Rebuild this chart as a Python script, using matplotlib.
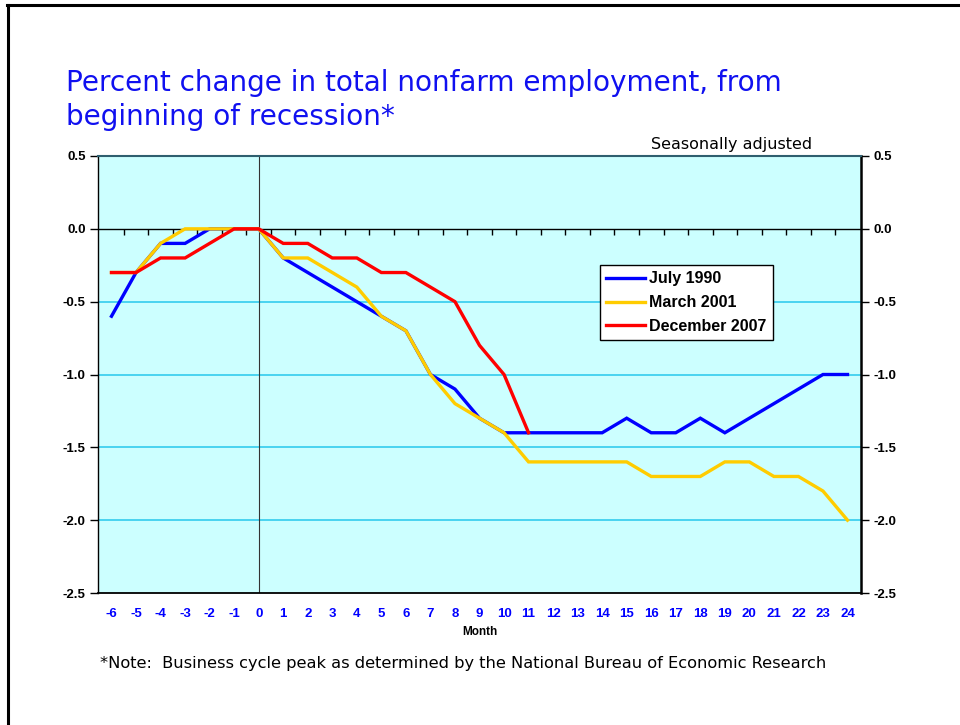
import numpy as np
import matplotlib
matplotlib.use("Agg")
import matplotlib.pyplot as plt
from matplotlib.lines import Line2D

# Months from start of recession
months = list(range(-6, 25))

july_1990 = [-0.6, -0.3, -0.1, -0.1, 0.0, 0.0, 0.0, -0.2, -0.3, -0.4, -0.5, -0.6, -0.7,
             -1.0, -1.1, -1.3, -1.4, -1.4, -1.4, -1.4, -1.4, -1.3, -1.4, -1.4, -1.3,
             -1.4, -1.3, -1.2, -1.1, -1.0, -1.0]
march_2001 = [-0.3, -0.3, -0.1, 0.0, 0.0, 0.0, 0.0, -0.2, -0.2, -0.3, -0.4, -0.6, -0.7,
              -1.0, -1.2, -1.3, -1.4, -1.6, -1.6, -1.6, -1.6, -1.6, -1.7, -1.7, -1.7,
              -1.6, -1.6, -1.7, -1.7, -1.8, -2.0]
dec_2007 = [-0.3, -0.3, -0.2, -0.2, -0.1, 0.0, 0.0, -0.1, -0.1, -0.2, -0.2, -0.3, -0.3,
            -0.4, -0.5, -0.8, -1.0, -1.4]

series_names = ["July 1990", "March 2001", "December 2007"]
series_colors = ["#0000FF", "#FFCC00", "#FF0000"]

yticks = [0.5, 0.0, -0.5, -1.0, -1.5, -2.0, -2.5]

fig = plt.figure(figsize=(9.6, 7.25), dpi=100)
ax = fig.add_axes([98 / 960, 1 - 593 / 725, 763 / 960, 437 / 725])
ax.set_facecolor("#CCFFFF")

# gridlines
for yv in yticks[2:-1]:
    ax.axhline(yv, color="#33CCEE", lw=1.2, zorder=1)
ax.axhline(0, color="black", lw=1.0, zorder=2)
ax.axvline(0, color="#333333", lw=0.8, zorder=2)

# small category tick marks on the zero line
half = np.array(months[1:]) - 0.5
ax.plot(half, np.zeros(len(half)), ls="none", marker=3, ms=4, mew=1, color="black", zorder=2)

data = [july_1990, march_2001, dec_2007]
for vals, name, col in zip(data, series_names, series_colors):
    ax.plot(months[:len(vals)], vals, color=col, lw=2.4, label=name, zorder=3,
            solid_joinstyle="miter")

ax.set_xlim(-6.55, 24.55)
ax.set_ylim(-2.5, 0.5)
ax.set_xticks(months)
ax.set_xticklabels([str(m) for m in months], color="#0000FF", fontweight="bold",
                   fontsize=9.5, family="Liberation Sans")
ax.tick_params(axis="x", length=0, pad=11)
ax.set_yticks(yticks)
ax.set_yticklabels(["%.1f" % v for v in yticks], fontweight="bold", fontsize=9.5,
                   family="Liberation Sans")
ax.tick_params(axis="y", left=True, right=True, labelleft=True, labelright=True,
               direction="out", length=6, width=1, pad=3)
ax.set_xlabel("Month", fontweight="bold", fontsize=8.5, family="Liberation Sans", labelpad=4)

ax.spines["top"].set_color("#2F5F6F")
ax.spines["top"].set_linewidth(1.5)
ax.spines["right"].set_linewidth(1.8)
ax.spines["bottom"].set_linewidth(1.3)
ax.spines["left"].set_linewidth(1.0)

leg = ax.legend(loc="upper left", bbox_to_anchor=(0.658, 0.7506), borderaxespad=0,
                fancybox=False, framealpha=1, edgecolor="black", facecolor="white",
                handlelength=2.4, handletextpad=0.25, borderpad=0.4, labelspacing=0.55,
                prop={"family": "Liberation Sans", "weight": "bold", "size": 11.5})
leg.get_frame().set_linewidth(1.0)

fig.text(66 / 960, 1 - 91 / 725, "Percent change in total nonfarm employment, from",
         color="#1010F0", fontsize=20.1, family="DejaVu Sans", va="baseline")
fig.text(66 / 960, 1 - 125 / 725, "beginning of recession*",
         color="#1010F0", fontsize=20.1, family="DejaVu Sans", va="baseline")
fig.text(812 / 960, 1 - 149 / 725, "Seasonally adjusted", ha="right", va="baseline",
         fontsize=11.5, family="DejaVu Sans")
fig.text(100 / 960, 1 - 668 / 725,
         "*Note:  Business cycle peak as determined by the National Bureau of Economic Research",
         va="baseline", fontsize=11.7, family="DejaVu Sans")

# outer frame (left and top edges)
fig.add_artist(Line2D([8 / 960, 8 / 960], [0, 1 - 5 / 725], color="black", lw=2.2,
                      transform=fig.transFigure))
fig.add_artist(Line2D([7 / 960, 1], [1 - 5 / 725, 1 - 5 / 725], color="black", lw=2.2,
                      transform=fig.transFigure))

fig.savefig("out.png", dpi=100)
